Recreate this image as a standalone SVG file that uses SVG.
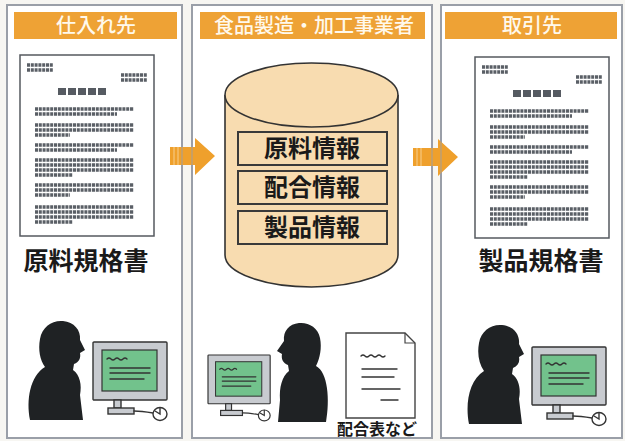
<svg xmlns="http://www.w3.org/2000/svg" xmlns:xlink="http://www.w3.org/1999/xlink" width="625" height="441" viewBox="0 0 625 441">
  <style>
    .panel { fill: #ffffff; stroke: #9a9fa8; stroke-width: 2; }
    .hdr { fill: #eea235; }
    .hdrtxt { font-family: "Noto Sans CJK JP", "Noto Sans", sans-serif; font-size: 20px; font-weight: 500; fill: #fff9ec; text-anchor: middle; }
    .lbl { font-family: "Noto Sans CJK JP", "Noto Sans", sans-serif; font-size: 24px; font-weight: 700; fill: #1a1a1a; text-anchor: middle; }
    .big { font-size: 25px; }
    .small { font-family: "Noto Sans CJK JP", "Noto Sans", sans-serif; font-size: 16px; font-weight: 700; fill: #1a1a1a; text-anchor: middle; }
    .dots { stroke: #5a5f66; stroke-width: 3.4; stroke-dasharray: 3 0.8; fill: none; }
    .sheet { fill: #ffffff; stroke: #55595f; stroke-width: 1.5; }
    .ink { fill: none; stroke: #333; stroke-width: 1.4; stroke-linecap: round; }
    .gray { fill: #c8cbd0; stroke: #333; stroke-width: 1.4; }
    .screen { fill: #72c28c; stroke: #333; stroke-width: 1.2; }
    .silhouette { fill: #1f2224; }
    .arrow { fill: #efa02c; }
    .db { fill: #f8dcb0; stroke: #333; stroke-width: 1.6; }
    .box { fill: #f8dcb0; stroke: #3a3a3a; stroke-width: 2; }
  </style>
  <defs>
    <!-- printed specification sheet -->
    <g id="sheet">
      <rect class="sheet" x="20" y="55" width="134" height="181"/>
      <path class="dots" d="M27 65H53M27 70H53"/>
      <path class="dots" d="M121 75H147M121 80H147"/>
      <g fill="#565b62">
        <rect x="58" y="88" width="8" height="7"/>
        <rect x="68" y="88" width="8" height="7"/>
        <rect x="78" y="88" width="8" height="7"/>
        <rect x="88" y="88" width="8" height="7"/>
        <rect x="98" y="88" width="8" height="7"/>
      </g>
      <path class="dots" d="M35 109H134M35 114H117
        M35 125H134M35 130H134M35 135H70
        M35 145H134M35 150H117
        M35 160H134M35 165H134M35 170H134M35 175H73
        M35 185H134M35 190H134M35 195H70
        M35 207H134M35 212H134M35 217H134M35 222H73"/>
    </g>
    <!-- desktop computer with mouse -->
    <g id="pc">
      <rect class="gray" x="0" y="0" width="74" height="58" rx="1"/>
      <rect class="screen" x="9" y="8" width="55" height="41"/>
      <path class="ink" d="M14 17q2 -2 4 0t4 0t4 0t4 0t4 0" stroke-width="1.1"/>
      <path class="ink" d="M17 26H57M17 31H57M17 37H51" stroke-width="1.6"/>
      <rect class="gray" x="21" y="58" width="7" height="8"/>
      <rect class="gray" x="15" y="66" width="26" height="6"/>
      <path class="ink" d="M41 69C48 69 54 70 60 71"/>
      <ellipse cx="67" cy="72" rx="7" ry="6.5" fill="#fff" stroke="#333" stroke-width="1.4"/>
      <path class="ink" d="M62 69L67 72L67 66" stroke-width="1.1"/>
    </g>
    <!-- person facing right -->
    <path id="personR" class="silhouette" d="M30 420C26 400 30 376 45 367C40 360 38 350 40 339C42 327 52 320 63 321C74 322 81 330 80 340L85 350L80 353C81 358 79 362 74 364L73 370C80 375 82 385 80 395L83 420Z"/>
    <!-- arrow -->
    <g id="arr">
      <path class="arrow" d="M170 147H195V138L215 156L195 175V165H170Z"/>
      <path d="M174 147V165M178 147V165" stroke="#f7cf8e" stroke-width="1"/>
    </g>
  </defs>

  <rect x="0" y="0" width="625" height="441" fill="#f7f6f2"/>

  <!-- panel: supplier -->
  <g id="supplier">
    <rect class="panel" x="7" y="5" width="175" height="433"/>
    <rect class="hdr" x="14" y="12" width="163" height="27"/>
    <text class="hdrtxt" x="96" y="33">仕入れ先</text>
    <use xlink:href="#sheet"/>
    <text class="lbl big" x="86" y="270">原料規格書</text>
    <use xlink:href="#personR"/>
    <use xlink:href="#pc" transform="translate(93,342)"/>
  </g>

  <!-- panel: manufacturer -->
  <g id="maker">
    <rect class="panel" x="192" y="5" width="240" height="433"/>
    <rect class="hdr" x="200" y="12" width="225" height="27"/>
    <text class="hdrtxt" x="314" y="33" font-size="21">食品製造・加工事業者</text>
    <g id="database">
      <path class="db" d="M225 95V255A86.5 32 0 0 0 398 255V95"/>
      <ellipse class="db" cx="311.5" cy="95" rx="86.5" ry="32"/>
      <rect class="box" x="238" y="132" width="149" height="33"/>
      <rect class="box" x="238" y="171" width="149" height="33"/>
      <rect class="box" x="238" y="211" width="149" height="33"/>
      <text class="lbl" x="312" y="157">原料情報</text>
      <text class="lbl" x="312" y="196">配合情報</text>
      <text class="lbl" x="312" y="236">製品情報</text>
    </g>
    <use xlink:href="#pc" transform="translate(208,355) scale(0.84)"/>
    <path class="silhouette" d="M326 422C330 400 328 372 316 366C320 358 322 348 320 338C318 327 308 322 299 323C289 324 283 331 284 341L277 351L282 354C281 359 283 363 288 365L289 371C282 376 279 388 280 400L278 422Z"/>
    <g id="recipe">
      <path d="M346 333H405L415 343V418H346Z" fill="#fff" stroke="#444" stroke-width="1.4"/>
      <path d="M405 333V343H415" fill="none" stroke="#444" stroke-width="1.2"/>
      <path class="ink" d="M361 356q2 -2 4 0t4 0t4 0t4 0t4 0t4 0" stroke-width="1.1"/>
      <path class="ink" d="M362 369H397M362 377H394M362 389H400M381 400H398" stroke-width="1.3"/>
    </g>
    <text class="small" x="377" y="435">配合表など</text>
  </g>

  <!-- panel: customer -->
  <g id="customer">
    <rect class="panel" x="441" y="5" width="181" height="433"/>
    <rect class="hdr" x="445" y="12" width="172" height="27"/>
    <text class="hdrtxt" x="532" y="33">取引先</text>
    <use xlink:href="#sheet" transform="translate(455,2)"/>
    <text class="lbl big" x="541" y="270">製品規格書</text>
    <use xlink:href="#personR" transform="translate(439,4)"/>
    <use xlink:href="#pc" transform="translate(532,347)"/>
  </g>

  <!-- flow arrows -->
  <g id="connectors">
    <use xlink:href="#arr"/>
    <use xlink:href="#arr" transform="translate(243,1)"/>
    <path d="M182 137V177M192 137V177M432 137V179M441 137V179" stroke="#9a9fa8" stroke-width="1.5" opacity="0.6"/>
  </g>
</svg>
